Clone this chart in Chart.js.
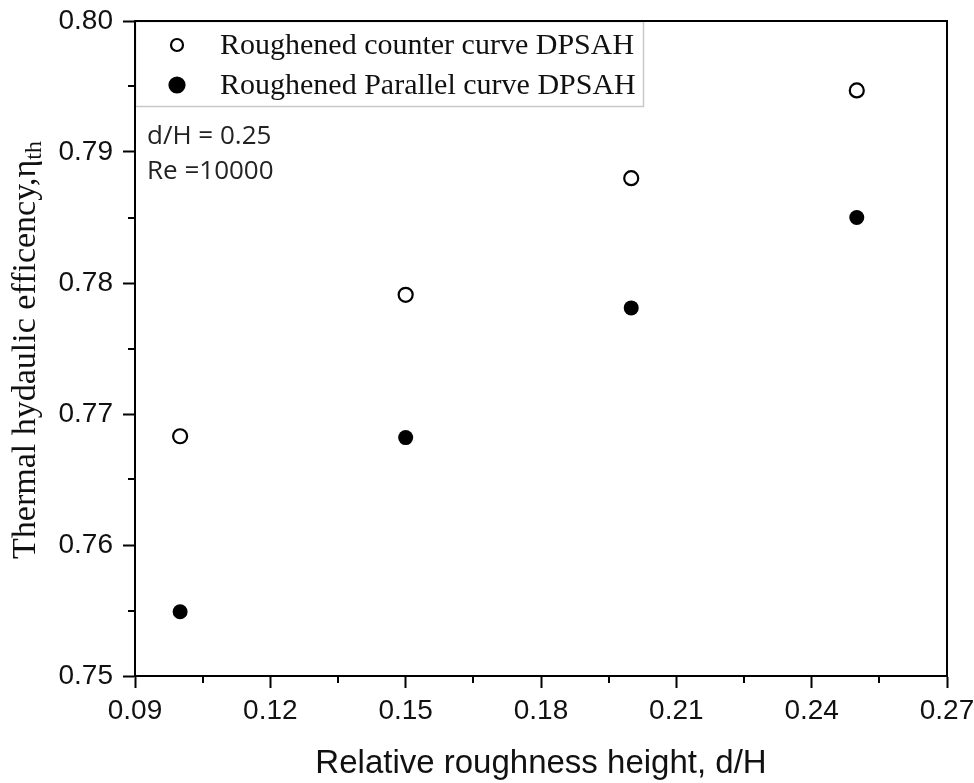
<!DOCTYPE html>
<html>
<head>
<meta charset="utf-8">
<script src="https://cdn.jsdelivr.net/npm/chart.js@4/dist/chart.umd.min.js"></script>
<style>
  html, body { margin: 0; padding: 0; background: #fff; }
  #wrap { width: 974px; height: 783px; }
</style>
</head>
<body>
<div id="wrap"><canvas id="c" width="974" height="783"></canvas></div>
<script>
// Relative roughness height d/H and thermal hydraulic efficiency of the two DPSAH flow arrangements
const roughnessRatio = [0.10, 0.15, 0.20, 0.25];
const counterFlowEff = [0.7683, 0.7791, 0.7880, 0.7947];
const parallelFlowEff = [0.7549, 0.7682, 0.7781, 0.7850];
const seriesNames = ['Roughened counter curve DPSAH', 'Roughened Parallel curve DPSAH'];

const xTicks = [0.09, 0.12, 0.15, 0.18, 0.21, 0.24, 0.27];
const yTicks = [0.75, 0.76, 0.77, 0.78, 0.79, 0.80];
const xMinorTicks = [0.105, 0.135, 0.165, 0.195, 0.225, 0.255];
const yMinorTicks = [0.755, 0.765, 0.775, 0.785, 0.795];

const noteLines = ['d/H = 0.25', 'Re =10000'];
const xTitle = 'Relative roughness height, d/H';
const yTitleMain = 'Thermal hydaulic efficency,\u03B7';
const yTitleSub = 'th';

const SANS = '"Liberation Sans", Arial, sans-serif';
const SERIF = '"Liberation Serif", "Times New Roman", serif';

const toPoints = (xs, ys) => xs.map((x, i) => ({ x: x, y: ys[i] }));

// Box frame, minor ticks, axis titles, legend and the condition note
const decorations = {
  id: 'decorations',
  afterDraw(chart) {
    const { ctx, chartArea: a, scales } = chart;
    const xs = scales.x, ys = scales.y;
    ctx.save();
    ctx.strokeStyle = '#000';
    ctx.lineWidth = 2;

    // top and right edges of the frame
    ctx.beginPath();
    ctx.moveTo(a.left, a.top);
    ctx.lineTo(a.right, a.top);
    ctx.lineTo(a.right, a.bottom);
    ctx.stroke();

    // minor ticks, outward
    ctx.beginPath();
    xMinorTicks.forEach(v => {
      const px = Math.round(xs.getPixelForValue(v));
      ctx.moveTo(px, a.bottom);
      ctx.lineTo(px, a.bottom + 7);
    });
    yMinorTicks.forEach(v => {
      const py = Math.round(ys.getPixelForValue(v));
      ctx.moveTo(a.left, py);
      ctx.lineTo(a.left - 7, py);
    });
    ctx.stroke();

    // x axis title
    ctx.fillStyle = '#111';
    ctx.font = '33px ' + SANS;
    ctx.textAlign = 'center';
    ctx.textBaseline = 'alphabetic';
    ctx.fillText(xTitle, (a.left + a.right) / 2, 773);

    // y axis title with subscript
    ctx.save();
    ctx.translate(35, 350);
    ctx.rotate(-Math.PI / 2);
    ctx.font = '34px ' + SERIF;
    const wMain = ctx.measureText(yTitleMain).width;
    ctx.font = '24px ' + SERIF;
    const wSub = ctx.measureText(yTitleSub).width;
    const start = -(wMain + wSub) / 2;
    ctx.textAlign = 'left';
    ctx.font = '34px ' + SERIF;
    ctx.fillText(yTitleMain, start, 0);
    ctx.font = '24px ' + SERIF;
    ctx.fillText(yTitleSub, start + wMain, 6);
    ctx.restore();

    // legend box
    const lx = a.left, ly = a.top, lw = 508, lh = 85;
    ctx.fillStyle = '#fff';
    ctx.fillRect(lx + 1, ly + 1, lw - 1, lh - 1);
    ctx.strokeStyle = '#c8c8c8';
    ctx.lineWidth = 1.5;
    ctx.strokeRect(lx + 0.5, ly + 0.5, lw, lh);
    // frame edges stay on top of the legend border
    ctx.strokeStyle = '#000';
    ctx.lineWidth = 2;
    ctx.beginPath();
    ctx.moveTo(a.left, a.top);
    ctx.lineTo(a.left + lw + 20, a.top);
    ctx.moveTo(a.left, a.top);
    ctx.lineTo(a.left, a.top + lh + 20);
    ctx.stroke();

    chart.data.datasets.forEach((ds, i) => {
      const cy = 45 + i * 40;
      ctx.beginPath();
      ctx.arc(177, cy, ds.pointRadius - (ds.pointBorderWidth > 1 ? 1 : 0), 0, Math.PI * 2);
      ctx.fillStyle = ds.pointBackgroundColor;
      ctx.fill();
      ctx.lineWidth = ds.pointBorderWidth;
      ctx.strokeStyle = ds.pointBorderColor;
      ctx.stroke();
      ctx.fillStyle = '#111';
      ctx.font = '30px ' + SERIF;
      ctx.textAlign = 'left';
      ctx.textBaseline = 'middle';
      ctx.fillText(ds.label, 220, cy + 1);
    });

    // operating condition note
    ctx.fillStyle = '#222';
    ctx.font = '26px "Open Sans", sans-serif';
    ctx.textAlign = 'left';
    ctx.textBaseline = 'alphabetic';
    noteLines.forEach((t, i) => ctx.fillText(t, 147, 144 + i * 35));

    ctx.restore();
  }
};

new Chart(document.getElementById('c'), {
  type: 'scatter',
  data: {
    datasets: [
      {
        label: seriesNames[0],
        data: toPoints(roughnessRatio, counterFlowEff),
        pointRadius: 7,
        pointBackgroundColor: '#fff',
        pointBorderColor: '#000',
        pointBorderWidth: 2.2,
        showLine: false
      },
      {
        label: seriesNames[1],
        data: toPoints(roughnessRatio, parallelFlowEff),
        pointRadius: 7.5,
        pointBackgroundColor: '#000',
        pointBorderColor: '#000',
        pointBorderWidth: 0,
        showLine: false
      }
    ]
  },
  options: {
    responsive: false,
    devicePixelRatio: 1,
    animation: false,
    layout: { padding: { top: 21, right: 27, left: 0, bottom: 0 } },
    plugins: { legend: { display: false }, tooltip: { enabled: false } },
    scales: {
      x: {
        type: 'linear',
        min: 0.09,
        max: 0.27,
        afterBuildTicks: s => { s.ticks = xTicks.map(v => ({ value: v })); },
        afterFit: s => { s.height = 107; s.paddingLeft = 0; s.paddingRight = 0; },
        ticks: {
          callback: v => Number(v).toFixed(2),
          color: '#111',
          font: { family: SANS, size: 28 },
          padding: 6,
          maxRotation: 0
        },
        grid: { drawOnChartArea: false, drawTicks: true, tickLength: 12, tickWidth: 2, tickColor: '#000' },
        border: { display: true, color: '#000', width: 2 }
      },
      y: {
        type: 'linear',
        min: 0.75,
        max: 0.80,
        afterBuildTicks: s => { s.ticks = yTicks.map(v => ({ value: v })); },
        afterFit: s => { s.width = 135; s.paddingTop = 0; s.paddingBottom = 0; },
        ticks: {
          callback: v => Number(v).toFixed(2),
          color: '#111',
          font: { family: SANS, size: 28 },
          padding: 10
        },
        grid: { drawOnChartArea: false, drawTicks: true, tickLength: 12, tickWidth: 2, tickColor: '#000' },
        border: { display: true, color: '#000', width: 2 }
      }
    }
  },
  plugins: [decorations]
});
</script>
</body>
</html>
